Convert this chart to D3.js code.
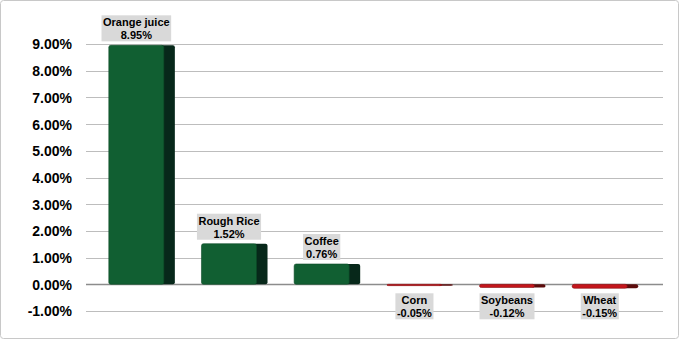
<!DOCTYPE html>
<html>
<head>
<meta charset="utf-8">
<script src="https://cdn.jsdelivr.net/npm/d3@7"></script>
<style>
html,body{margin:0;padding:0;background:#fff;}
svg{display:block;}
</style>
</head>
<body>
<svg id="chart" width="681" height="341"></svg>
<script>
const categories = ["Orange juice", "Rough Rice", "Coffee", "Corn", "Soybeans", "Wheat"];
const values = [8.95, 1.52, 0.76, -0.05, -0.12, -0.15];
const tickValues = [-1, 0, 1, 2, 3, 4, 5, 6, 7, 8, 9];

const svg = d3.select("#chart");
const W = 681, H = 341;
const fontFam = "'Liberation Sans', Arial, sans-serif";

svg.append("rect").attr("x", 0.5).attr("y", 0.5).attr("width", 678).attr("height", 338)
  .attr("rx", 3).attr("fill", "#fff").attr("stroke", "#c8c8c8").attr("stroke-width", 1);

const y = d3.scaleLinear().domain([-1, 9]).range([311, 44]);
const x = d3.scaleBand().domain(categories).range([90, 646]).paddingInner(0.406).paddingOuter(0.203);
const gridX0 = 86, gridX1 = 663;
const depth = 11;

// gridlines
svg.append("g").selectAll("line").data(tickValues).join("line")
  .attr("x1", gridX0).attr("x2", gridX1)
  .attr("y1", d => Math.round(y(d)) + 0.5).attr("y2", d => Math.round(y(d)) + 0.5)
  .attr("stroke", d => d === 0 ? "#8c8c8c" : "#bdbdbd").attr("stroke-width", d => d === 0 ? 1.5 : 1.2);

// y axis labels
const yAxis = d3.axisLeft(y).tickValues(tickValues).tickSize(0).tickPadding(0)
  .tickFormat(d => d.toFixed(2) + "%");
const ag = svg.append("g").attr("transform", "translate(72,0)").call(yAxis);
ag.select(".domain").remove();
ag.selectAll("text").attr("font-family", fontFam).attr("font-weight", "bold")
  .attr("font-size", 14).attr("fill", "#000").attr("dy", "0.35em");

const data = categories.map((c, i) => ({c, v: values[i]}));
const front = d => d.v >= 0 ? "#115f32" : "#c4161c";
const side = d => d.v >= 0 ? "#07281a" : "#5c0c0c";

const bars = svg.append("g");
// side (depth) faces
bars.selectAll("rect.side").data(data).join("rect").attr("class", "side")
  .attr("x", d => x(d.c) + x.bandwidth() - 3)
  .attr("y", d => y(Math.max(d.v, 0)))
  .attr("width", depth + 3)
  .attr("height", d => Math.max(1.2, Math.abs(y(d.v) - y(0))))
  .attr("rx", 2).attr("fill", side);
// front faces
bars.selectAll("rect.front").data(data).join("rect").attr("class", "front")
  .attr("x", d => x(d.c))
  .attr("y", d => y(Math.max(d.v, 0)))
  .attr("width", x.bandwidth())
  .attr("height", d => Math.max(1.2, Math.abs(y(d.v) - y(0))))
  .attr("rx", 2).attr("fill", front)
  .attr("stroke", d => d.v >= 0 ? "#0b4a26" : "#8a0f12").attr("stroke-width", 0.6);

// labels
const lg = svg.append("g");
data.forEach(d => {
  const cx = x(d.c) + x.bandwidth() / 2;
  const boxH = 26;
  const top = d.v >= 0 ? y(d.v) - 4 - boxH : y(0) + 9;
  const g = lg.append("g");
  const t = g.append("text").attr("text-anchor", "middle")
    .attr("font-family", fontFam).attr("font-weight", "bold").attr("font-size", 11).attr("fill", "#000");
  t.append("tspan").attr("x", cx).attr("y", top + 11).text(d.c);
  t.append("tspan").attr("x", cx).attr("y", top + 24).text(d.v.toFixed(2) + "%");
  const bb = t.node().getBBox();
  g.insert("rect", "text").attr("x", bb.x - 1.5).attr("y", top)
    .attr("width", bb.width + 3).attr("height", boxH).attr("fill", "#d9d9d9");
});
</script>
</body>
</html>
